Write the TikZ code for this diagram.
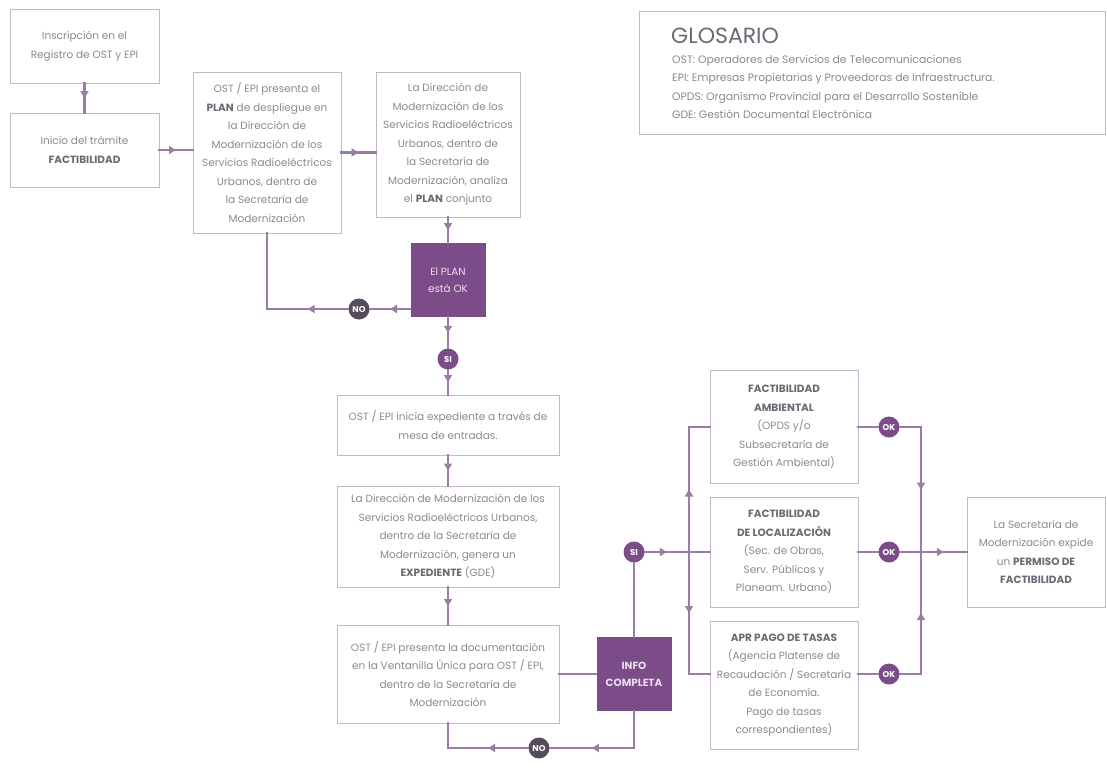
\documentclass[tikz,border=0pt]{standalone}
\usepackage{fontspec}
\setmainfont{Poppins}
\usetikzlibrary{arrows.meta,decorations.markings}
\definecolor{violeta}{HTML}{7B4C88}
\definecolor{linea}{HTML}{9A7CA6}
\definecolor{borde}{HTML}{C4B7CA}
\definecolor{texto}{HTML}{8E8794}
\definecolor{oscuro}{HTML}{6F6874}
\definecolor{grisno}{HTML}{574C5D}
\definecolor{rosado}{HTML}{EEDDF2}

\begin{document}
\begin{tikzpicture}[x=1pt,y=-1pt]
        \tikzstyle{caja}=[draw=borde,line width=1pt,text=texto,align=center,inner sep=0pt,font=\fontsize{10.5}{18.5}\selectfont]
        \tikzstyle{decision}=[fill=violeta,text=rosado,align=center,inner sep=0pt,minimum width=75pt,minimum height=74pt,font=\fontsize{10.4}{17}\selectfont]
        \tikzstyle{si node}=[circle,fill=violeta,text=white,inner sep=0pt,minimum size=21pt,font=\bfseries\fontsize{8.5}{9}\selectfont]
        \tikzstyle{no node}=[si node,fill=grisno]
        \tikzstyle{conector}=[draw=linea,line width=2.2pt,line cap=rect]
        \tikzstyle{flecha}=[postaction={decorate},decoration={markings,mark=at position 0.5 with {\arrow[linea]{Triangle[width=8pt,length=7pt]}}}]

        \fill[white] (0,0) rectangle (1107,768);

        \node[caja,minimum width=149pt,minimum height=73pt] (inscripcion) at (84.5,46.5) {Inscripción en el\\Registro de OST y EPI};
        \node[caja,minimum width=149pt,minimum height=74pt] (inicio) at (84.5,150) {Inicio del trámite\\\textcolor{oscuro}{\textbf{FACTIBILIDAD}}};
        \node[caja,minimum width=148pt,minimum height=161pt] (presenta) at (267,152.5) {OST / EPI presenta el\\\textcolor{oscuro}{\textbf{PLAN}} de despliegue en\\la Dirección de\\Modernización de los\\Servicios Radioeléctricos\\Urbanos, dentro de\\la Secretaría de\\Modernización};
        \node[caja,minimum width=144pt,minimum height=145pt] (analiza) at (448,144.5) {La Dirección de\\Modernización de los\\Servicios Radioeléctricos\\Urbanos, dentro de\\la Secretaría de\\Modernización, analiza\\el \textcolor{oscuro}{\textbf{PLAN}} conjunto};
        \node[decision] (planok) at (448,280) {El PLAN\\está OK};
        \node[no node] (no1) at (359,309) {NO};
        \node[si node] (si1) at (448,359) {SI};
        \node[caja,minimum width=222pt,minimum height=60pt] (mesa) at (448,425) {OST / EPI inicia expediente a través de\\mesa de entradas.};
        \node[caja,minimum width=222pt,minimum height=101pt] (expediente) at (448,536.5) {La Dirección de Modernización de los\\Servicios Radioeléctricos Urbanos,\\dentro de la Secretaría de\\Modernización, genera un\\\textcolor{oscuro}{\textbf{EXPEDIENTE}} (GDE)};
        \node[caja,minimum width=222pt,minimum height=98pt] (ventanilla) at (448,674) {OST / EPI presenta la documentación\\en la Ventanilla Única para OST / EPI,\\dentro de la Secretaría de\\Modernización};
        \node[decision,font=\bfseries\fontsize{10.4}{17}\selectfont] (infook) at (634,674) {INFO\\COMPLETA};
        \node[no node] (no2) at (539,748) {NO};
        \node[si node] (si2) at (634,552) {SI};
        \coordinate (bif) at (689,552);
        \node[caja,minimum width=148pt,minimum height=113pt] (ambiental) at (784,427) {\textcolor{oscuro}{\textbf{FACTIBILIDAD}}\\\textcolor{oscuro}{\textbf{AMBIENTAL}}\\(OPDS y/o\\Subsecretaría de\\Gestión Ambiental)};
        \node[caja,minimum width=148pt,minimum height=110pt] (localizacion) at (784,552) {\textcolor{oscuro}{\textbf{FACTIBILIDAD}}\\\textcolor{oscuro}{\textbf{DE LOCALIZACIÓN}}\\(Sec. de Obras,\\Serv. Públicos y\\Planeam. Urbano)};
        \node[caja,minimum width=148pt,minimum height=128pt] (apr) at (784,685) {\textcolor{oscuro}{\textbf{APR PAGO DE TASAS}}\\(Agencia Platense de\\Recaudación / Secretaría\\de Economía.\\Pago de tasas\\correspondientes)};
        \node[si node] (ok1) at (889,427) {OK};
        \node[si node] (ok2) at (889,552) {OK};
        \node[si node] (ok3) at (889,674) {OK};
        \coordinate (union) at (921,552);
        \node[caja,minimum width=138pt,minimum height=110pt] (permiso) at (1036,552) {La Secretaría de\\Modernización expide\\un \textcolor{oscuro}{\textbf{PERMISO DE}}\\\textcolor{oscuro}{\textbf{FACTIBILIDAD}}};

        \node[draw=borde,line width=1pt,minimum width=466pt,minimum height=122pt] (glosario) at (872,73) {};
        \node[anchor=west,inner sep=0pt,text=oscuro,font=\fontsize{22}{26}\selectfont] (glosatitulo) at (671,36) {GLOSARIO};
        \node[anchor=north west,inner sep=0pt,align=left,text=texto,font=\fontsize{10.8}{18.3}\selectfont] (glosalista) at (672,55) {OST: Operadores de Servicios de Telecomunicaciones\\EPI: Empresas Propietarias y Proveedoras de Infraestructura.\\OPDS: Organismo Provincial para el Desarrollo Sostenible\\GDE: Gestión Documental Electrónica};

        \draw[conector,flecha] (inscripcion) -- (inicio);
        \draw[conector,flecha] (inicio) -- (inicio -| presenta.west);
        \draw[conector,flecha] (presenta) -- (presenta -| analiza.west);
        \draw[conector,flecha] (analiza) -- (planok);
        \draw[conector,flecha] (planok.west |- no1) -- (no1);
        \draw[conector,flecha] (no1) -- (no1 -| presenta.south);
        \draw[conector] (no1 -| presenta.south) -- (presenta.south);
        \draw[conector,flecha] (planok) -- (si1);
        \draw[conector,flecha] (si1) -- (mesa);
        \draw[conector,flecha] (mesa) -- (expediente);
        \draw[conector,flecha] (expediente) -- (ventanilla);
        \draw[conector] (ventanilla) -- (infook);
        \draw[conector] (infook.south) -- (infook.south |- no2);
        \draw[conector,flecha] (infook.south |- no2) -- (no2);
        \draw[conector,flecha] (no2) -- (no2 -| ventanilla.south);
        \draw[conector] (no2 -| ventanilla.south) -- (ventanilla.south);
        \draw[conector] (infook) -- (si2);
        \draw[conector,flecha] (si2) -- (bif);
        \draw[conector] (bif) -- (localizacion);
        \draw[conector,flecha] (bif) -- (bif |- ambiental);
        \draw[conector] (bif |- ambiental) -- (ambiental);
        \draw[conector,flecha] (bif) -- (bif |- infook);
        \draw[conector] (bif |- infook) -- (infook -| apr.west);
        \draw[conector] (ambiental) -- (ok1);
        \draw[conector] (ok1) -- (ok1 -| union);
        \draw[conector,flecha] (ok1 -| union) -- (union);
        \draw[conector] (localizacion) -- (ok2);
        \draw[conector] (ok2) -- (union);
        \draw[conector] (apr.east |- ok3) -- (ok3);
        \draw[conector] (ok3) -- (ok3 -| union);
        \draw[conector,flecha] (ok3 -| union) -- (union);
        \draw[conector,flecha] (union) -- (permiso);
\end{tikzpicture}
\end{document}
